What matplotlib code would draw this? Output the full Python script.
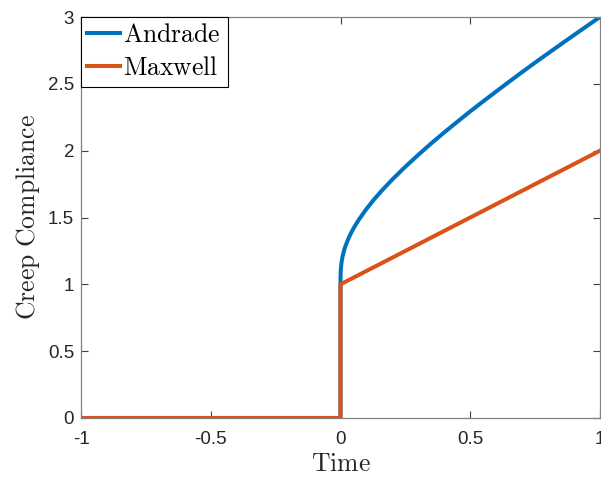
import matplotlib
matplotlib.use("Agg")
from matplotlib import pyplot as plt

# data
t_andrade = [-1.0, 0.0, 0.0, 0.0001, 0.0003, 0.001, 0.002, 0.003, 0.005, 0.0075,
             0.01, 0.015, 0.02, 0.03, 0.04, 0.05, 0.07, 0.1, 0.13, 0.16, 0.2,
             0.25, 0.3, 0.35, 0.4, 0.45, 0.5, 0.55, 0.6, 0.65, 0.7, 0.75, 0.8,
             0.85, 0.9, 0.95, 1.0]
j_andrade = [0.0, 0.0, 1.0, 1.05, 1.067, 1.101, 1.128, 1.147, 1.176, 1.203,
             1.225, 1.262, 1.291, 1.340, 1.382, 1.418, 1.482, 1.564, 1.637, 1.703, 1.785,
             1.880, 1.969, 2.055, 2.137, 2.216, 2.294, 2.369, 2.443, 2.516, 2.588, 2.659, 2.728,
             2.797, 2.865, 2.933, 3.0]
t_maxwell = [-1.0, 0.0, 0.0, 1.0]
j_maxwell = [0.0, 0.0, 1.0, 2.0]

plt.rcParams['mathtext.fontset'] = 'cm'
plt.rcParams['font.family'] = ['Liberation Sans', 'DejaVu Sans']

fig = plt.figure(figsize=(6.01, 4.78), dpi=100)
ax = fig.add_axes([81 / 601, 1 - 418 / 478, 519 / 601, 401 / 478])

ax.plot(t_andrade, j_andrade, color='#0072BD', lw=2.9, label=r'$\mathrm{Andrade}$')
ax.plot(t_maxwell, j_maxwell, color='#D95319', lw=2.9, label=r'$\mathrm{Maxwell}$')

ax.set_xlim(-1, 1)
ax.set_ylim(0, 3)
ax.set_xticks([-1, -0.5, 0, 0.5, 1])
ax.set_xticklabels(['-1', '-0.5', '0', '0.5', '1'])
ax.set_yticks([0, 0.5, 1, 1.5, 2, 2.5, 3])
ax.set_yticklabels(['0', '0.5', '1', '1.5', '2', '2.5', '3'])
ax.tick_params(direction='in', length=5, width=0.8, color='0.25',
               labelsize=13.5, labelcolor='#262626', top=True, right=True, pad=5)
ax.tick_params(axis='x', pad=9)
for s in ax.spines.values():
    s.set_color('0.5')
    s.set_linewidth(0.9)

ax.set_xlabel(r'$\mathrm{Time}$', fontsize=18.5, color='#262626', labelpad=3)
ax.set_ylabel(r'$\mathrm{Creep\ Compliance}$', fontsize=18.5, color='#262626', labelpad=4)

leg = ax.legend(loc='upper left', borderaxespad=0, fontsize=18.5, fancybox=False,
                framealpha=1, edgecolor='black', handlelength=1.25,
                handletextpad=0.15, borderpad=0.25, labelspacing=0.35)
leg.get_frame().set_linewidth(0.8)

plt.savefig('out.png', dpi=100)
